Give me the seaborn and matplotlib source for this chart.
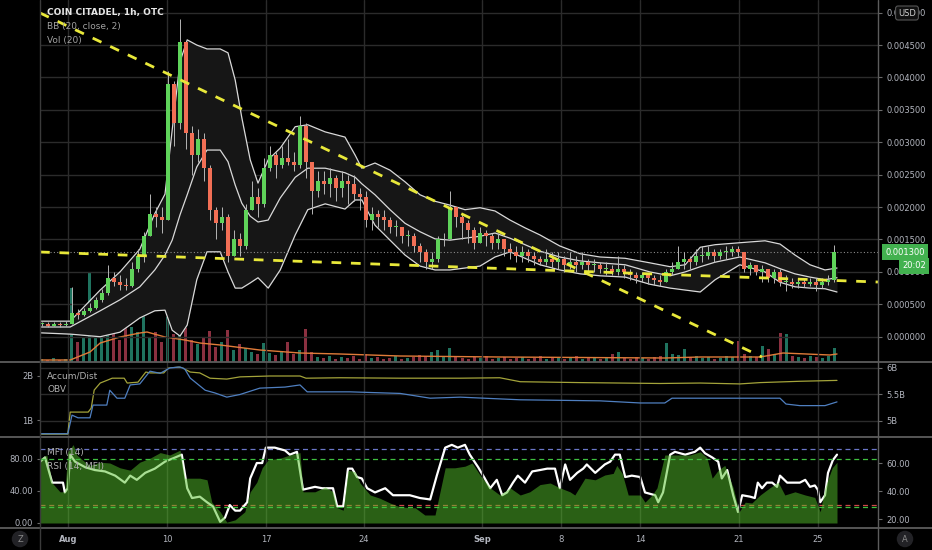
import numpy as np
import matplotlib
matplotlib.use("Agg")
import matplotlib.pyplot as plt
import seaborn as sns
from matplotlib.lines import Line2D

# prices in micro-USD (1e-6 USD); x axis = candle slot index
close = [190, 170, 200, 180, 200, 360, 330, 400, 440, 560,
         680, 900, 850, 800, 780, 1050, 1250, 1550, 1900, 1850,
         1800, 3900, 3300, 4550, 3150, 2800, 3050, 2600, 1950, 1750,
         1850, 1250, 1500, 1400, 1950, 2150, 2050, 2600, 2800, 2650,
         2750, 2700, 2650, 3250, 2700, 2250, 2400, 2350, 2450, 2300,
         2400, 2350, 2200, 2150, 1800, 1900, 1850, 1800, 1700, 1700,
         1550, 1550, 1400, 1300, 1150, 1200, 1500, 1500, 2000, 1850,
         1750, 1650, 1450, 1600, 1550, 1450, 1500, 1350, 1300, 1250,
         1300, 1250, 1200, 1150, 1200, 1150, 1200, 1100, 1150, 1100,
         1150, 1100, 1100, 1050, 1050, 1000, 1050, 1000, 950, 900,
         950, 900, 880, 850, 1000, 1050, 1150, 1200, 1150, 1250,
         1250, 1300, 1250, 1300, 1300, 1350, 1300, 1050, 1100, 1000,
         1050, 900, 1000, 850, 850, 820, 850, 820, 850, 800,
         850, 870, 1300]
high = [230, 220, 230, 220, 240, 760, 420, 450, 520, 620,
        740, 1100, 1000, 950, 900, 1150, 1350, 1620, 2200, 2000,
        2000, 4100, 3950, 4900, 4550, 3250, 3200, 3150, 2650, 2000,
        2000, 1900, 1650, 1600, 2050, 2400, 2300, 2750, 2950, 2850,
        2950, 3050, 2850, 3400, 3300, 2700, 2550, 2550, 2600, 2500,
        2550, 2500, 2500, 2300, 2250, 2000, 1950, 1950, 1850, 1800,
        1700, 1650, 1600, 1450, 1350, 1300, 1550, 1600, 2250, 2000,
        1900, 1800, 1700, 1700, 1650, 1600, 1600, 1500, 1450, 1400,
        1400, 1350, 1300, 1250, 1350, 1300, 1300, 1250, 1300, 1250,
        1300, 1200, 1200, 1150, 1150, 1100, 1250, 1100, 1050, 1000,
        1000, 950, 950, 950, 1050, 1150, 1400, 1300, 1250, 1350,
        1400, 1400, 1350, 1350, 1400, 1400, 1400, 1300, 1150, 1100,
        1100, 1050, 1050, 1050, 950, 900, 900, 900, 900, 900,
        900, 950, 1420]
low = [160, 150, 160, 150, 160, 190, 280, 320, 380, 430,
       540, 650, 780, 720, 720, 770, 1000, 1150, 1550, 1700,
       1600, 1800, 2950, 3200, 2900, 2500, 2700, 2400, 1800, 1500,
       1650, 1150, 1250, 1250, 1350, 1950, 1850, 2000, 2550, 2450,
       2600, 2650, 2550, 2600, 2450, 1900, 2150, 2200, 2150, 2100,
       2150, 2050, 2100, 1950, 1700, 1650, 1700, 1650, 1600, 1550,
       1450, 1400, 1300, 1150, 1050, 1050, 1150, 1400, 1500, 1700,
       1500, 1450, 1350, 1450, 1400, 1350, 1350, 1250, 1200, 1150,
       1150, 1150, 1100, 1100, 1100, 1050, 1050, 1000, 1050, 1000,
       1050, 1000, 1000, 980, 950, 950, 950, 900, 880, 830,
       850, 820, 800, 780, 850, 950, 1050, 1050, 1050, 1100,
       1150, 1200, 1150, 1200, 1200, 1250, 1250, 1000, 950, 950,
       850, 850, 830, 780, 700, 750, 750, 770, 780, 700,
       750, 800, 850]
volume = [3, 2, 4, 2, 3, 74, 20, 25, 89, 25,
          30, 58, 28, 22, 91, 35, 30, 61, 25, 30,
          20, 45, 28, 35, 34, 22, 18, 25, 31, 15,
          20, 32, 12, 18, 14, 10, 8, 19, 9, 7,
          10, 20, 8, 12, 33, 10, 5, 4, 6, 3,
          5, 4, 6, 3, 8, 4, 5, 3, 4, 6,
          3, 4, 5, 7, 6, 10, 12, 6, 14, 5,
          4, 3, 5, 4, 6, 3, 4, 5, 3, 4,
          5, 3, 4, 6, 3, 4, 5, 3, 4, 6,
          3, 4, 5, 3, 4, 8, 10, 4, 3, 5,
          4, 3, 5, 6, 19, 8, 7, 13, 5, 6,
          4, 5, 3, 4, 6, 5, 21, 8, 6, 5,
          16, 13, 7, 29, 28, 6, 5, 4, 6, 5,
          4, 6, 14]

vol_ma_bar = [-0.3, 4.7, 8.0, 9.7, 13.0, 16.3, 17.5, 20.5, 23.8, 26.3, 29.7,
              36.3, 43.0, 49.7, 59.7, 76.3, 103.8, 109.7, 119.7, 123.5, 131.3, 132.5]
vol_ma = [2, 2, 10, 19, 25, 29, 30, 25, 22, 19, 17, 12, 9, 8, 6, 5, 4, 5, 5, 9, 7, 8]

bb_bar = [-0.3, 4.7, 9.7, 13.0, 16.3, 18.8, 20.5, 21.7, 23.0, 24.2,
          25.8, 27.5, 29.7, 31.0, 32.2, 33.3, 34.7, 36.0, 37.7, 39.7,
          42.2, 44.3, 47.2, 50.5, 52.2, 53.3, 55.5, 58.0, 60.5, 63.0,
          65.5, 68.0, 70.5, 73.0, 75.5, 78.0, 80.5, 83.0, 86.3, 89.7,
          93.0, 97.2, 101.3, 104.7, 107.2, 109.7, 112.2, 116.3, 120.5, 123.0,
          125.5, 128.0, 130.5, 132.5]
bb_upper = [240, 240, 720, 1000, 1350, 1900, 2200, 3190, 4240, 4580,
            4500, 4440, 4440, 4380, 3960, 3380, 2730, 2370, 2730, 2910,
            3240, 3270, 3160, 3080, 2800, 2600, 2680, 2570, 2390, 2190,
            2090, 2030, 1960, 1990, 1940, 1800, 1680, 1570, 1400, 1280,
            1230, 1210, 1140, 1080, 1110, 1380, 1420, 1450, 1480, 1430,
            1260, 1110, 1030, 1060]
bb_mid = [150, 150, 400, 570, 770, 1030, 1260, 1490, 1880, 2190,
          2620, 2880, 2880, 2700, 2340, 2060, 1860, 1770, 1800, 2140,
          2460, 2600, 2600, 2530, 2460, 2360, 2190, 1960, 1750, 1620,
          1510, 1490, 1520, 1550, 1600, 1520, 1420, 1320, 1230, 1170,
          1140, 1110, 1000, 940, 1000, 1080, 1150, 1230, 1140, 1050,
          970, 920, 880, 910]
bb_lower = [60, 40, 0, 70, 290, 400, 410, 100, 10, 180,
            880, 1310, 1310, 1000, 750, 750, 830, 910, 750, 1030,
            1570, 1960, 2050, 1970, 2110, 2110, 1720, 1490, 1260, 1090,
            1030, 1030, 1060, 1090, 1230, 1310, 1210, 1110, 1030, 970,
            940, 920, 810, 750, 720, 690, 880, 1110, 1000, 840,
            770, 750, 740, 690]

trend_down_bar = [-0.33, 120]
trend_down = [4995, -313]
trend_flat_bar = [-0.33, 139.33]
trend_flat = [1307, 844]
last_price = 1300

# Accum/Dist (left scale) and OBV (right scale), billions
ad_bar = [-0.3, 4.3, 4.7, 7.7, 8.2, 8.7, 9.7, 10.8, 11.7, 13.7,
          14.2, 16.0, 17.3, 18.0, 20.3, 21.0, 22.7, 23.5, 24.7, 26.3,
          28.0, 30.8, 33.0, 38.0, 43.0, 44.0, 49.7, 59.7, 69.7, 76.3,
          79.7, 89.7, 103.0, 109.7, 116.3, 119.7, 126.3, 132.5]
ad_val = [0.68, 0.68, 1.18, 1.18, 1.27, 1.68, 1.84, 1.9, 1.95, 1.95,
          1.84, 1.86, 2.09, 2.07, 2.07, 2.18, 2.2, 2.18, 2.09, 2.07,
          1.95, 1.93, 1.98, 2.0, 2.0, 1.95, 1.96, 1.95, 1.95, 1.96,
          1.87, 1.85, 1.83, 1.84, 1.82, 1.85, 1.88, 1.9]
obv_bar = [-0.3, 4.3, 5.0, 6.0, 8.0, 8.5, 10.8, 11.3, 12.5, 13.8,
           14.7, 16.3, 18.0, 19.7, 21.3, 23.0, 23.8, 24.7, 27.2, 28.8,
           30.8, 33.0, 36.3, 40.5, 43.0, 44.2, 51.3, 59.7, 64.7, 69.7,
           79.7, 93.0, 99.7, 103.8, 105.0, 121.3, 123.0, 124.0, 126.3, 130.5,
           132.5]
obv_val = [4.76, 4.76, 5.11, 5.06, 5.06, 5.30, 5.30, 5.58, 5.43, 5.43,
           5.68, 5.70, 5.94, 5.90, 6.0, 6.02, 5.98, 5.81, 5.58, 5.53,
           5.45, 5.5, 5.62, 5.64, 5.68, 5.55, 5.55, 5.52, 5.43, 5.45,
           5.40, 5.38, 5.34, 5.34, 5.43, 5.43, 5.43, 5.32, 5.29, 5.29,
           5.36]

# MFI (left scale) and RSI of MFI (right scale)
mfi_bar = [-0.3, 0.8, 1.7, 3.0, 3.8, 4.3, 5.2, 5.8, 7.2, 8.0,
           9.7, 11.3, 13.0, 14.7, 16.3, 18.0, 19.7, 21.3, 23.0, 23.8,
           26.3, 27.5, 28.3, 29.7, 30.8, 32.2, 33.8, 34.7, 35.8, 36.7,
           37.7, 39.7, 41.3, 43.0, 43.5, 45.5, 47.2, 48.5, 49.2, 50.2,
           51.0, 52.2, 53.0, 54.7, 56.3, 58.0, 59.7, 62.2, 63.8, 65.5,
           67.2, 68.8, 70.5, 71.7, 73.0, 74.7, 76.3, 78.0, 79.7, 81.3,
           83.0, 84.7, 86.3, 88.0, 88.8, 90.5, 92.2, 93.8, 95.2, 95.8,
           96.7, 97.7, 99.7, 100.5, 101.7, 102.5, 103.8, 108.0, 109.7, 110.8,
           111.7, 112.7, 113.8, 115.2, 116.2, 117.2, 118.3, 119.7, 121.3, 122.7,
           123.8, 125.5, 127.2, 128.8, 129.7, 130.5, 131.7, 132.5]
mfi_val = [81, 85, 50, 39, 39, 89, 98, 85, 76, 72,
           76, 75, 69, 66, 76, 81, 88, 85, 91, 56,
           56, 54, 26, 14, 1, 4, 14, 39, 51, 69,
           79, 81, 85, 88, 39, 39, 45, 39, 19, 16,
           66, 64, 50, 35, 31, 25, 20, 19, 10, 10,
           69, 69, 71, 75, 60, 44, 35, 44, 35, 39,
           48, 50, 44, 39, 35, 56, 54, 60, 62, 72,
           62, 35, 35, 26, 35, 44, 85, 85, 89, 82,
           56, 66, 72, 44, 14, 26, 25, 35, 44, 51,
           35, 39, 35, 32, 14, 44, 69, 76]
rsi_bar = [-0.3, 0.5, 1.7, 3.5, 3.8, 4.3, 4.7, 5.5, 7.2, 8.8,
           10.5, 12.2, 13.8, 14.7, 15.8, 17.2, 18.8, 20.5, 22.2, 23.3,
           24.2, 25.0, 26.3, 27.5, 28.5, 29.7, 30.5, 31.3, 32.2, 33.0,
           34.2, 34.7, 35.8, 36.7, 37.3, 38.8, 40.5, 41.3, 42.5, 43.5,
           45.5, 46.7, 48.5, 49.2, 50.2, 51.0, 51.7, 52.5, 53.3, 54.2,
           55.5, 57.2, 58.5, 59.7, 61.3, 63.0, 64.7, 65.8, 67.2, 68.3,
           69.3, 70.5, 71.3, 72.7, 73.8, 74.7, 75.8, 76.7, 77.5, 78.5,
           79.3, 80.5, 81.7, 83.0, 84.2, 85.5, 86.3, 87.2, 88.0, 89.2,
           90.2, 90.8, 92.2, 93.8, 94.7, 95.5, 96.3, 97.2, 98.3, 99.7,
           100.5, 102.2, 102.7, 103.5, 104.7, 105.5, 107.2, 108.8, 109.7, 110.5,
           111.7, 112.7, 113.3, 114.2, 115.2, 116.0, 116.7, 118.0, 118.8, 119.3,
           120.0, 120.8, 121.7, 122.5, 123.0, 124.2, 125.5, 126.3, 127.2, 128.0,
           128.8, 129.3, 129.7, 130.5, 131.0, 131.8, 132.5]
rsi_val = [61, 64, 46, 46, 39, 42, 66, 61, 57, 55,
           54, 51, 46, 51, 48, 53, 56, 61, 64, 66,
           42, 35, 36, 32, 29, 18, 21, 30, 26, 26,
           32, 49, 60, 60, 71, 71, 69, 66, 68, 41,
           43, 42, 42, 29, 29, 56, 56, 50, 49, 42,
           39, 42, 37, 37, 37, 35, 34, 51, 71, 73,
           71, 73, 66, 57, 49, 42, 48, 37, 39, 46,
           51, 46, 54, 55, 56, 56, 42, 59, 48, 53,
           56, 59, 53, 59, 61, 66, 66, 50, 51, 50,
           39, 37, 32, 39, 66, 68, 66, 68, 71, 67,
           64, 61, 49, 55, 37, 25, 37, 36, 35, 46,
           42, 46, 46, 43, 51, 46, 46, 46, 48, 43,
           44, 41, 32, 37, 53, 62, 66]

date_pos = [4.33, 20.83, 37.33, 53.67, 73.33, 86.5, 99.67, 116.17, 129.33]
date_lab = ["Aug", "10", "17", "24", "Sep", "8", "14", "21", "25"]

UP, DOWN, WICK = "#5fd35a", "#f26f55", "#b5b5b5"
VOL_UP, VOL_DOWN = "#23806a", "#9b3648"
GRID, SEP, TXT = "#2b2b2b", "#5c5c5c", "#b2b5be"

sns.set_theme(style="dark", rc={"axes.facecolor": "black", "figure.facecolor": "black",
                                "axes.edgecolor": "black", "text.color": TXT,
                                "xtick.color": TXT, "ytick.color": TXT})
plt.rcParams["font.family"] = ["DejaVu Sans"]

W, H = 932, 550
fig = plt.figure(figsize=(W / 100, H / 100), dpi=100, facecolor="black")


def box(x0, y0, x1, y1):
    return [x0 / W, 1 - y1 / H, (x1 - x0) / W, (y1 - y0) / H]


ax = fig.add_axes(box(40, 0, 878, 362))
ax_mid = fig.add_axes(box(40, 362, 878, 437), sharex=ax)
ax_bot = fig.add_axes(box(40, 437, 878, 528), sharex=ax)
ax_vol = ax.twinx()
ax_mid_r = ax_mid.twinx()
ax_bot_r = ax_bot.twinx()

"""
Main pane: candles, bollinger bands, volume
"""
c = np.array(close, dtype=float)
o = np.r_[c[0], c[:-1]]
bars = np.arange(len(c))
rising = c >= o

ax.fill_between(bb_bar, bb_lower, bb_upper, color="#161616", lw=0, zorder=1)
for band in (bb_upper, bb_mid, bb_lower):
    sns.lineplot(x=bb_bar, y=band, ax=ax, color="#d9d9d9", linewidth=0.9,
                 estimator=None, legend=False, zorder=2)
ax.vlines(bars, low, high, color=WICK, lw=0.7, zorder=3)
ax.bar(bars, np.maximum(np.abs(c - o), 15), bottom=np.minimum(o, c), width=0.55,
       color=np.where(rising, UP, DOWN), lw=0, zorder=4)
ax.plot(trend_down_bar, trend_down, color="#e8e83a", lw=2, dashes=(3.5, 3.5), zorder=5)
ax.plot(trend_flat_bar, trend_flat, color="#e8e83a", lw=2, dashes=(3.5, 3.5), zorder=5)
ax.axhline(last_price, color="#8a8a8a", lw=0.8, ls=(0, (1, 2)), zorder=2)

ax_vol.bar(bars, volume, width=0.5, color=np.where(rising, VOL_UP, VOL_DOWN), lw=0, alpha=0.9)
sns.lineplot(x=vol_ma_bar, y=vol_ma, ax=ax_vol, color="#e07b39", linewidth=1,
             estimator=None, legend=False)
ax_vol.set_ylim(0, 362)
ax_vol.set_zorder(ax.get_zorder() - 1)
ax.patch.set_visible(False)

ax.set_xlim(-0.333, 139.333)
ax.set_ylim(-390, 5195)
ax.set_yticks(np.arange(0, 5001, 500))
ax.set_yticklabels([f"{v / 1e6:.6f}" for v in np.arange(0, 5001, 500)])
ax.yaxis.tick_right()

"""
Accum/Dist + OBV
"""
sns.lineplot(x=ad_bar, y=ad_val, ax=ax_mid, color="#a3a33a", linewidth=0.9,
             estimator=None, legend=False)
sns.lineplot(x=obv_bar, y=obv_val, ax=ax_mid_r, color="#4f7fc0", linewidth=0.9,
             estimator=None, legend=False)
ax_mid.set_ylim(0.614, 2.318)
ax_mid.set_yticks([1, 2])
ax_mid.set_yticklabels(["1B", "2B"])
ax_mid_r.set_ylim(4.698, 6.113)
ax_mid_r.set_yticks([5, 5.5, 6])
ax_mid_r.set_yticklabels(["5B", "5.5B", "6B"])

"""
MFI + RSI(MFI)
"""
sns.lineplot(x=rsi_bar, y=rsi_val, ax=ax_bot_r, color="white", linewidth=1.6,
             estimator=None, legend=False, zorder=3)
ax_bot_r.axhline(70, color="#6a76c8", lw=0.9, ls=(0, (4, 3)))
ax_bot_r.axhline(30, color="#d04848", lw=0.9, ls=(0, (4, 3)))
ax_bot.fill_between(mfi_bar, mfi_val, 0, color="#55c02a", alpha=0.5, lw=0, zorder=2)
ax_bot.axhline(80, color="#3fbf3f", lw=0.9, ls=(0, (4, 3)), zorder=3)
ax_bot.axhline(20, color="#3fbf3f", lw=0.9, ls=(0, (4, 3)), zorder=3)
ax_bot.set_ylim(-6.25, 107.5)
ax_bot.set_yticks([0, 40, 80])
ax_bot.set_yticklabels(["0.00", "40.00", "80.00"])
ax_bot_r.set_ylim(13.6, 78.6)
ax_bot_r.set_yticks([20, 40, 60])
ax_bot_r.set_yticklabels(["20.00", "40.00", "60.00"])
ax_bot_r.set_zorder(0)
ax_bot.set_zorder(1)
ax_bot.patch.set_visible(False)

"""
Axes styling
"""
ax_bot.set_xticks(date_pos)
ax_bot.set_xticklabels(date_lab)
for lab in ax_bot.get_xticklabels():
    if lab.get_text() in ("Aug", "Sep"):
        lab.set_fontweight("bold")

for a in (ax, ax_mid, ax_bot, ax_vol, ax_mid_r, ax_bot_r):
    for s in a.spines.values():
        s.set_visible(False)
    a.set_xlabel("")
    a.set_ylabel("")
    a.grid(False)
for a in (ax, ax_mid, ax_bot):
    a.grid(True, axis="x", color=GRID, lw=1)
ax.grid(True, axis="y", color=GRID, lw=1)
ax_mid_r.grid(True, axis="y", color=GRID, lw=1)
ax_vol.set_yticks([])
ax_vol.tick_params(right=False, labelright=False)

ax.tick_params(axis="x", bottom=False, labelbottom=False, length=0)
ax_mid.tick_params(axis="x", bottom=False, labelbottom=False, length=0)
ax_bot.tick_params(axis="x", bottom=False, length=0, labelsize=6, labelcolor=TXT, pad=5)
ax.tick_params(axis="y", right=True, left=False, labelright=True, labelleft=False,
               length=3, width=0.8, color="#6b6b6b", labelsize=6, labelcolor=TXT, pad=3)
for a in (ax_mid_r, ax_bot_r):
    a.tick_params(axis="y", right=True, length=3, width=0.8, color="#6b6b6b",
                  labelsize=6, labelcolor=TXT, pad=3)
for a in (ax_mid, ax_bot):
    a.tick_params(axis="y", left=True, right=False, labelleft=True, length=2.5, width=0.8,
                  color="#6b6b6b", labelsize=6, labelcolor=TXT, pad=2.5)

# frame lines between panes
for y in (362, 437, 528):
    fig.add_artist(Line2D([0, 1], [1 - y / H] * 2, color=SEP, lw=1.3))
fig.add_artist(Line2D([40 / W] * 2, [0, 1], color="#3a3a3a", lw=1))
fig.add_artist(Line2D([878 / W] * 2, [0, 1], color=SEP, lw=1))


def ftext(x, y, s, **kw):
    fig.text(x / W, 1 - y / H, s, va="center", **kw)


ftext(47, 13, "COIN CITADEL, 1h, OTC", color="#e6e6e6", fontsize=6.5, fontweight="bold")
ftext(47, 27, "BB (20, close, 2)", color="#a0a0a0", fontsize=6.5)
ftext(47, 41, "Vol (20)", color="#a0a0a0", fontsize=6.5)
ftext(47, 376, "Accum/Dist", color="#b0b0b0", fontsize=6.5)
ftext(47, 390, "OBV", color="#b0b0b0", fontsize=6.5)
ftext(47, 452, "MFI (14)", color="#b0b0b0", fontsize=6.5)
ftext(47, 466, "RSI (14, MFI)", color="#b0b0b0", fontsize=6.5)

ftext(907, 13, "USD", color="#d0d0d0", fontsize=6, ha="center",
      bbox=dict(boxstyle="round,pad=0.3", fc="#101010", ec="#555555", lw=0.8))
ftext(905, 252, f"{last_price / 1e6:.6f}", color="white", fontsize=6, ha="center",
      bbox=dict(boxstyle="square,pad=0.4", fc="#42b14f", ec="none"))
ftext(914, 266, "20:02", color="white", fontsize=6, ha="center",
      bbox=dict(boxstyle="square,pad=0.4", fc="#42b14f", ec="none"))
ftext(20, 539, "Z", color="#8a8a8a", fontsize=6, ha="center",
      bbox=dict(boxstyle="circle,pad=0.45", fc="#222226", ec="none"))
ftext(905, 539, "A", color="#8a8a8a", fontsize=6, ha="center",
      bbox=dict(boxstyle="circle,pad=0.45", fc="#222226", ec="none"))

fig.savefig("out.png", dpi=100, facecolor="black")
